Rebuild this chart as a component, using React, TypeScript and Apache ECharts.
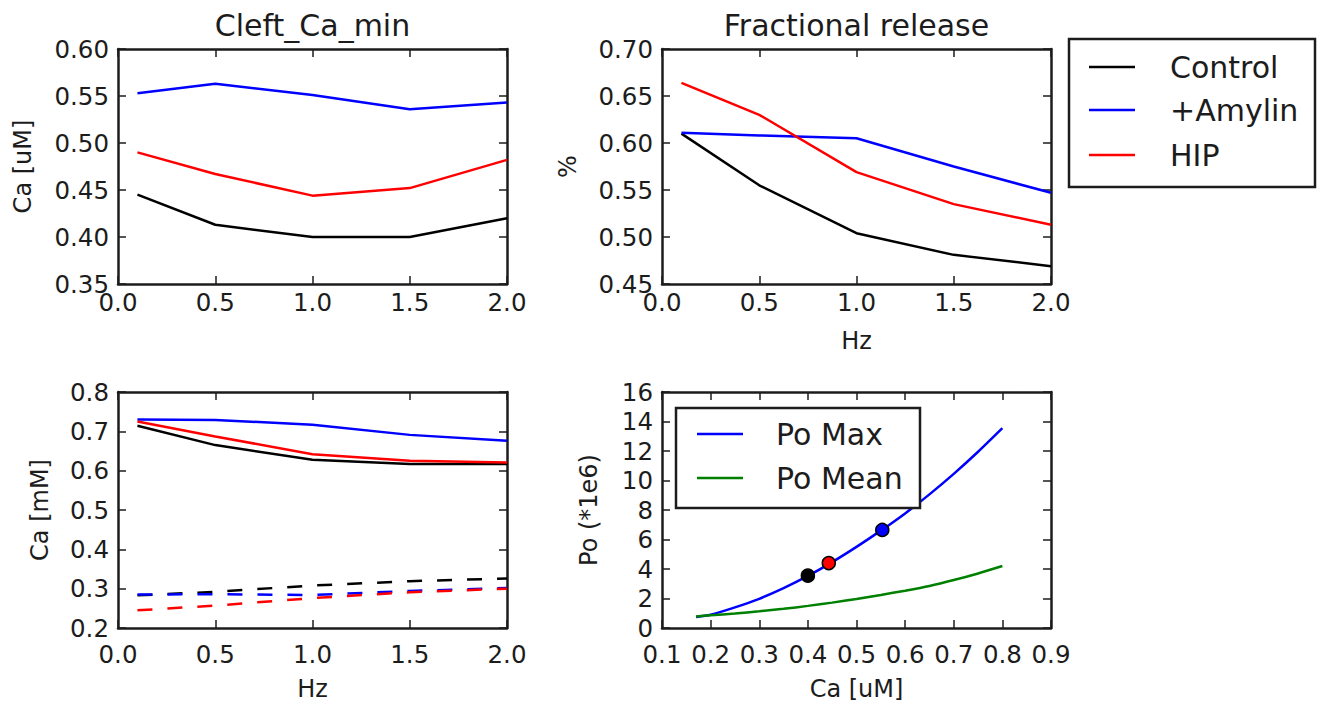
import React, { useEffect, useRef } from 'react';
import * as echarts from 'echarts';

// ---------- data ----------
const hz = [0.1, 0.5, 1.0, 1.5, 2.0];
const seriesNames = ['Control', '+Amylin', 'HIP'];
const seriesColors = ['#000000', '#0000ff', '#ff0000'];

const cleftControl = [0.445, 0.413, 0.4, 0.4, 0.42];
const cleftAmylin = [0.553, 0.563, 0.551, 0.536, 0.543];
const cleftHIP = [0.49, 0.467, 0.444, 0.452, 0.482];

const fracControl = [0.61, 0.555, 0.504, 0.481, 0.469];
const fracAmylin = [0.611, 0.608, 0.605, 0.575, 0.547];
const fracHIP = [0.664, 0.63, 0.569, 0.535, 0.513];

const srControl = [0.714, 0.665, 0.628, 0.617, 0.617];
const srAmylin = [0.73, 0.729, 0.717, 0.691, 0.676];
const srHIP = [0.725, 0.687, 0.642, 0.625, 0.621];

const cytControl = [0.283, 0.292, 0.308, 0.319, 0.326];
const cytAmylin = [0.285, 0.286, 0.284, 0.294, 0.302];
const cytHIP = [0.245, 0.257, 0.276, 0.291, 0.3];

const poCa = [0.17, 0.2, 0.25, 0.3, 0.35, 0.4, 0.45, 0.5, 0.55, 0.6, 0.65, 0.7, 0.75, 0.8];
const poMax = [0.75, 0.9, 1.4, 1.98, 2.7, 3.53, 4.47, 5.5, 6.6, 7.77, 9.06, 10.45, 11.95, 13.55];
const poMean = [0.78, 0.86, 0.98, 1.13, 1.3, 1.5, 1.72, 1.97, 2.24, 2.53, 2.85, 3.25, 3.7, 4.2];
const poNames = ['Po Max', 'Po Mean'];
const poColors = ['#0000ff', '#008000'];

const pointCa = [0.4, 0.443, 0.553];
const pointPo = [3.55, 4.4, 6.65];
const pointColors = ['#000000', '#ff0000', '#0000ff'];

const titles = ['Cleft_Ca_min', 'Fractional release'];

// ---------- styling ----------
const FONT = 'DejaVu Sans';
const INK = '#1c1c1c';
const TICK_FS = 24.5;
const LABEL_FS = 24;
const TITLE_FS = 30;
const LEGEND_FS = 30;
const LW = 2.5;

const grids = [
  { left: 118, top: 49, width: 389, height: 235 },
  { left: 662, top: 49, width: 389, height: 235 },
  { left: 118, top: 392, width: 389, height: 236 },
  { left: 662, top: 392, width: 389, height: 236 },
];

const pairs = (xs: number[], ys: number[]) => xs.map((x, i) => [x, ys[i]]);

function axisPair(
  kind: 'x' | 'y',
  gi: number,
  min: number,
  max: number,
  interval: number,
  dec: number,
  name: string,
  nameGap: number,
  labelMargin: number
) {
  const common = {
    type: 'value',
    gridIndex: gi,
    min,
    max,
    interval,
    axisLine: { show: true, onZero: false, lineStyle: { color: INK, width: 2.5 } },
    axisTick: { show: true, inside: true, length: 8, lineStyle: { color: INK, width: 1.5 } },
    splitLine: { show: false },
  };
  const main = {
    ...common,
    position: kind === 'x' ? 'bottom' : 'left',
    axisLabel: {
      show: true,
      margin: labelMargin,
      color: INK,
      fontSize: TICK_FS,
      fontFamily: FONT,
      showMinLabel: true,
      showMaxLabel: true,
      formatter: (v: number) => v.toFixed(dec),
    },
    name,
    nameLocation: 'middle',
    nameGap,
    nameTextStyle: { color: INK, fontSize: LABEL_FS, fontFamily: FONT },
  };
  const mirror = {
    ...common,
    position: kind === 'x' ? 'top' : 'right',
    axisLabel: { show: false },
  };
  return [main, mirror];
}

function lineSeries(gi: number, name: string, xs: number[], ys: number[], color: string, dashed = false, smooth: any = false) {
  return {
    type: 'line',
    name,
    xAxisIndex: gi * 2,
    yAxisIndex: gi * 2,
    data: pairs(xs, ys),
    showSymbol: false,
    symbol: 'none',
    smooth,
    lineStyle: { color, width: LW, type: dashed ? [15, 15] : 'solid' },
    itemStyle: { color },
    z: 3,
  };
}

export default function App() {
  const ref = useRef<HTMLDivElement>(null);

  useEffect(() => {
    if (!ref.current) return;
    const chart = echarts.init(ref.current, undefined, { renderer: 'svg' });

    const xAxis = [
      ...axisPair('x', 0, 0, 2, 0.5, 1, '', 0, 6),
      ...axisPair('x', 1, 0, 2, 0.5, 1, 'Hz', 45, 6),
      ...axisPair('x', 2, 0, 2, 0.5, 1, 'Hz', 49, 14),
      ...axisPair('x', 3, 0.1, 0.9, 0.1, 1, 'Ca [uM]', 49, 14),
    ];
    const yAxis = [
      ...axisPair('y', 0, 0.35, 0.6, 0.05, 2, 'Ca [uM]', 83, 9),
      ...axisPair('y', 1, 0.45, 0.7, 0.05, 2, '%', 82, 9),
      ...axisPair('y', 2, 0.2, 0.8, 0.1, 1, 'Ca [mM]', 66, 9),
      ...axisPair('y', 3, 0, 16, 2, 0, 'Po (*1e6)', 61, 9),
    ];

    const cleft = [cleftControl, cleftAmylin, cleftHIP];
    const frac = [fracControl, fracAmylin, fracHIP];
    const sr = [srControl, srAmylin, srHIP];
    const cyt = [cytControl, cytAmylin, cytHIP];

    const series: any[] = [];
    seriesNames.forEach((n, i) => series.push(lineSeries(0, n, hz, cleft[i], seriesColors[i])));
    seriesNames.forEach((n, i) => series.push(lineSeries(1, n, hz, frac[i], seriesColors[i])));
    seriesNames.forEach((n, i) => series.push(lineSeries(2, n, hz, sr[i], seriesColors[i])));
    seriesNames.forEach((n, i) => series.push(lineSeries(2, n + ' cyt', hz, cyt[i], seriesColors[i], true)));
    series.push(lineSeries(3, poNames[0], poCa, poMax, poColors[0], false, 0.25));
    series.push(lineSeries(3, poNames[1], poCa, poMean, poColors[1], false, 0.25));
    pointCa.forEach((c, i) => {
      series.push({
        type: 'scatter',
        xAxisIndex: 6,
        yAxisIndex: 6,
        data: [[c, pointPo[i]]],
        symbol: 'circle',
        symbolSize: 13,
        itemStyle: { color: pointColors[i], borderColor: '#000000', borderWidth: 1.5, opacity: 1 },
        z: 5,
      });
    });

    const graphic: any[] = [];
    titles.forEach((t, i) => {
      const g = grids[i];
      graphic.push({
        type: 'text',
        x: g.left + g.width / 2,
        y: 25,
        style: { text: t, fontSize: TITLE_FS, fontFamily: FONT, fill: INK, align: 'center', verticalAlign: 'middle' },
      });
    });

    // legend for top-right plot (outside)
    const legendRows = [67, 110, 155];
    graphic.push({
      type: 'rect',
      shape: { x: 1069, y: 39, width: 246, height: 148 },
      style: { fill: '#ffffff', stroke: INK, lineWidth: 2.5 },
      z: 100,
    });
    seriesNames.forEach((n, i) => {
      graphic.push({
        type: 'line',
        shape: { x1: 1089, y1: legendRows[i], x2: 1135, y2: legendRows[i] },
        style: { stroke: seriesColors[i], lineWidth: LW },
        z: 101,
      });
      graphic.push({
        type: 'text',
        x: 1170,
        y: legendRows[i],
        style: { text: n, fontSize: LEGEND_FS, fontFamily: FONT, fill: INK, align: 'left', verticalAlign: 'middle' },
        z: 101,
      });
    });

    // legend for bottom-right plot (inside)
    const poRows = [434, 478];
    graphic.push({
      type: 'rect',
      shape: { x: 676, y: 408, width: 244, height: 100 },
      style: { fill: '#ffffff', stroke: INK, lineWidth: 2.5 },
      z: 100,
    });
    poNames.forEach((n, i) => {
      graphic.push({
        type: 'line',
        shape: { x1: 697, y1: poRows[i], x2: 743, y2: poRows[i] },
        style: { stroke: poColors[i], lineWidth: LW },
        z: 101,
      });
      graphic.push({
        type: 'text',
        x: 776,
        y: poRows[i],
        style: { text: n, fontSize: LEGEND_FS, fontFamily: FONT, fill: INK, align: 'left', verticalAlign: 'middle' },
        z: 101,
      });
    });

    chart.setOption({
      animation: false,
      backgroundColor: '#ffffff',
      textStyle: { fontFamily: FONT },
      grid: grids.map((g) => ({ ...g, containLabel: false })),
      xAxis,
      yAxis,
      series,
      graphic,
    });

    return () => chart.dispose();
  }, []);

  return (
    <div
      ref={ref}
      style={{ position: 'absolute', left: 0, top: 0, width: 1321, height: 704, background: '#ffffff' }}
    />
  );
}
